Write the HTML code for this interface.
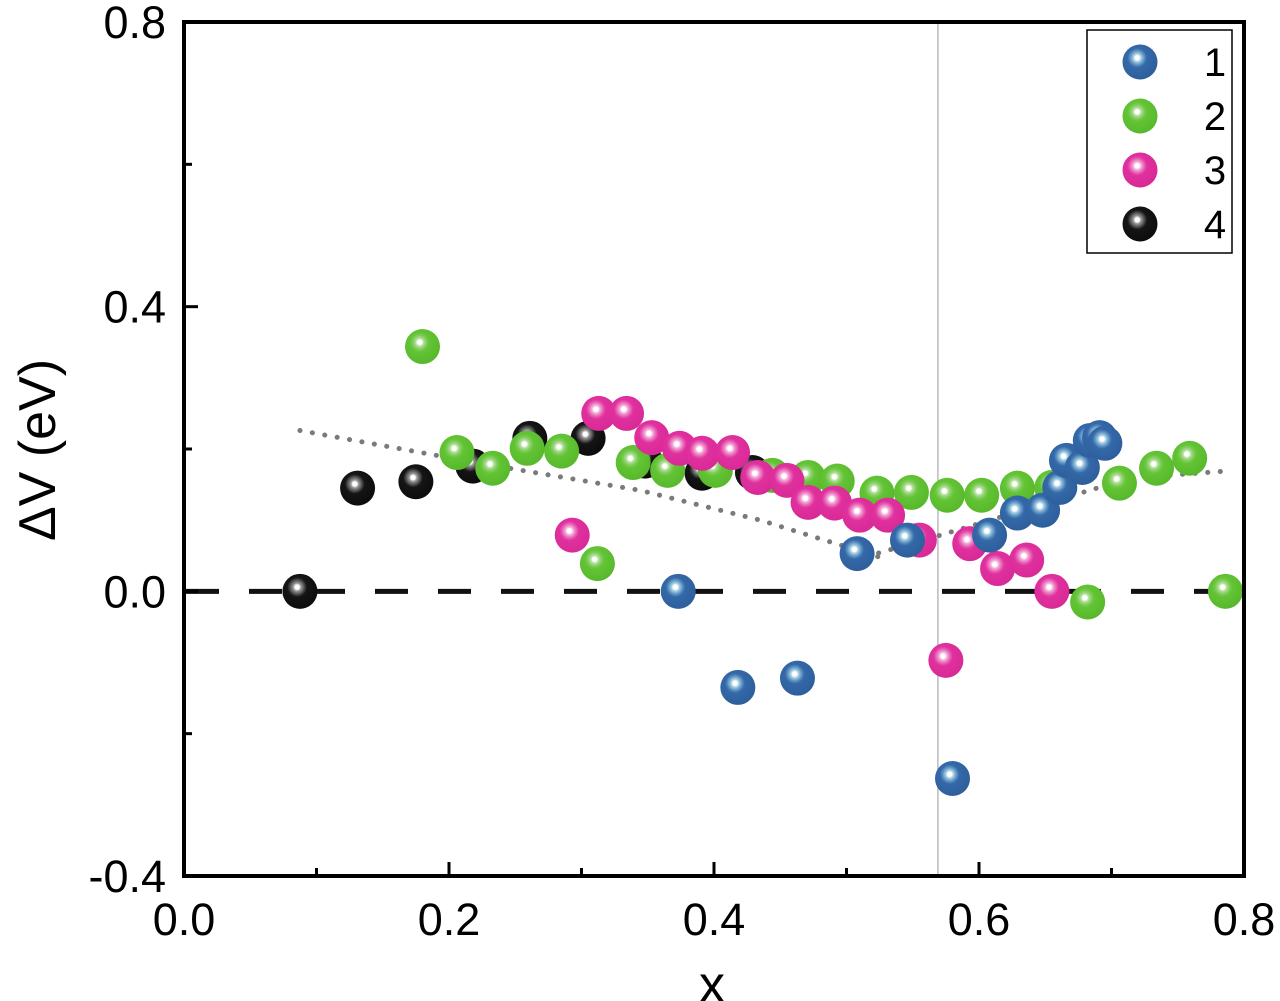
<!DOCTYPE html>
<html><head><meta charset="utf-8"><style>
html,body{margin:0;padding:0;background:#fff;}
svg{display:block;font-family:"Liberation Sans",Arial,sans-serif;}
</style></head><body>
<svg id="chart" width="1280" height="1001" viewBox="0 0 1280 1001" xmlns="http://www.w3.org/2000/svg">
<defs>
<radialGradient id="g1" cx="0.42" cy="0.38" r="0.62"><stop offset="0" stop-color="#fff"/><stop offset="0.1" stop-color="#fff"/><stop offset="0.18" stop-color="#a8d0e4"/><stop offset="0.32" stop-color="#5f96c4"/><stop offset="0.45" stop-color="#3468a8"/><stop offset="1" stop-color="#2e5f9c"/></radialGradient>
<radialGradient id="g2" cx="0.42" cy="0.38" r="0.62"><stop offset="0" stop-color="#fff"/><stop offset="0.1" stop-color="#fff"/><stop offset="0.18" stop-color="#b4e09c"/><stop offset="0.32" stop-color="#80cc5c"/><stop offset="0.45" stop-color="#62c434"/><stop offset="1" stop-color="#58b82c"/></radialGradient>
<radialGradient id="g3" cx="0.42" cy="0.38" r="0.62"><stop offset="0" stop-color="#fff"/><stop offset="0.1" stop-color="#fff"/><stop offset="0.18" stop-color="#f4b0dc"/><stop offset="0.32" stop-color="#e866b6"/><stop offset="0.45" stop-color="#e0309e"/><stop offset="1" stop-color="#d82a96"/></radialGradient>
<radialGradient id="g4" cx="0.42" cy="0.38" r="0.62"><stop offset="0" stop-color="#fff"/><stop offset="0.1" stop-color="#fff"/><stop offset="0.18" stop-color="#999"/><stop offset="0.32" stop-color="#555"/><stop offset="0.45" stop-color="#151515"/><stop offset="1" stop-color="#0c0c0c"/></radialGradient>
</defs>
<g id="plot"></g>
</svg>
<script>
const xTicks=[0.0,0.2,0.4,0.6,0.8];
const yTicks=[-0.4,0.0,0.4,0.8];
const xTickLabels=["0.0","0.2","0.4","0.6","0.8"];
const yTickLabels=["-0.4","0.0","0.4","0.8"];
const s1x=[0.373,0.418,0.463,0.508,0.546,0.580,0.608,0.629,0.648,0.661,0.666,0.678,0.684,0.691,0.695];
const s1y=[0,-0.135,-0.122,0.053,0.072,-0.263,0.079,0.110,0.114,0.146,0.184,0.174,0.212,0.216,0.208];
const s2x=[0.180,0.206,0.233,0.259,0.285,0.312,0.339,0.365,0.401,0.444,0.471,0.493,0.523,0.549,0.576,0.602,0.629,0.655,0.682,0.706,0.734,0.759,0.786];
const s2y=[0.344,0.195,0.173,0.201,0.197,0.039,0.181,0.170,0.170,0.163,0.160,0.155,0.138,0.139,0.135,0.135,0.145,0.146,-0.015,0.152,0.173,0.187,0];
const s3x=[0.313,0.334,0.293,0.353,0.374,0.391,0.414,0.433,0.455,0.471,0.491,0.510,0.531,0.555,0.575,0.593,0.614,0.636,0.655];
const s3y=[0.250,0.250,0.079,0.216,0.201,0.194,0.195,0.160,0.156,0.125,0.124,0.107,0.107,0.072,-0.097,0.067,0.032,0.044,0];
const s4x=[0.0875,0.131,0.175,0.218,0.261,0.305,0.348,0.391,0.429];
const s4y=[0,0.145,0.154,0.176,0.215,0.215,0.183,0.166,0.167];
const fitAx=[0.0875,0.223,0.344,0.435,0.525];
const fitAy=[0.226,0.180,0.142,0.100,0.048];
const fitBx=[0.506,0.571,0.646,0.714,0.786];
const fitBy=[0.044,0.079,0.121,0.159,0.169];
const vlineX=0.569;

const L=184,R=1244,T=22,B=876;
const X=v=>L+(v-0)/0.8*(R-L);
const Y=v=>B-(v+0.4)/1.2*(B-T);
const NS="http://www.w3.org/2000/svg";
const g=document.getElementById('plot');
function mk(t,a,p){const e=document.createElementNS(NS,t);for(const k in a)e.setAttribute(k,a[k]);(p||g).appendChild(e);return e;}

let e=mk('line',{x1:X(vlineX),x2:X(vlineX),y1:T,y2:B,stroke:'#bbb','stroke-width':1.5});


e=mk('line',{x1:L,x2:R,y1:Y(0),y2:Y(0),stroke:'#111','stroke-width':5,'stroke-dasharray':'33 30','stroke-dashoffset':'-2'});



function fit(xs,ys,name){
  const d=xs.map((v,i)=>(i?'L':'M')+X(v).toFixed(1)+' '+Y(ys[i]).toFixed(1)).join(' ');
  const p=mk('path',{d:d,fill:'none',stroke:'#7a7a7a','stroke-width':5,'stroke-linecap':'round','stroke-dasharray':'0.1 12.5'});
  
  
}
fit(fitAx,fitAy,'trend-line-left');
fit(fitBx,fitBy,'trend-line-right');

function series(xs,ys,grad,name){
  const sg=mk('g',{});
  
  
  xs.forEach((v,i)=>{
    const c=mk('circle',{cx:X(v),cy:Y(ys[i]),r:17.5,fill:'url(#'+grad+')'},sg);
    
    
  });
}
series(s4x,s4y,'g4','series-4');
series(s2x,s2y,'g2','series-2');
series(s3x,s3y,'g3','series-3');
series(s1x,s1y,'g1','series-1');

e=mk('rect',{x:L,y:T,width:R-L,height:B-T,fill:'none',stroke:'#000','stroke-width':4});



xTicks.forEach((v,i)=>{
  mk('line',{x1:X(v),x2:X(v),y1:B,y2:B-14,stroke:'#000','stroke-width':3});
  const t=mk('text',{x:X(v),y:935,'text-anchor':'middle','font-size':45});
  t.textContent=xTickLabels[i];
  
  
  if(i<xTicks.length-1){mk('line',{x1:X(v+0.1),x2:X(v+0.1),y1:B,y2:B-8,stroke:'#000','stroke-width':3});}
});
yTicks.forEach((v,i)=>{
  mk('line',{x1:L,x2:L+14,y1:Y(v),y2:Y(v),stroke:'#000','stroke-width':3});
  const t=mk('text',{x:166,y:Y(v)+16,'text-anchor':'end','font-size':45});
  t.textContent=yTickLabels[i];
  
  
  if(i<yTicks.length-1){mk('line',{x1:L,x2:L+8,y1:Y(v+0.2),y2:Y(v+0.2),stroke:'#000','stroke-width':3});}
});

e=mk('text',{x:712,y:1002,'text-anchor':'middle','font-size':52});
e.textContent='x';


e=mk('text',{x:0,y:0,'text-anchor':'middle','font-size':52,transform:'translate(55,450) rotate(-90)'});
e.textContent='ΔV (eV)';



const lg=mk('g',{});


mk('rect',{x:1087,y:30,width:145,height:223,fill:'#fff',stroke:'#000','stroke-width':1.5},lg);
const legendLabels=['1','2','3','4'];
const legendGrads=['g1','g2','g3','g4'];
legendLabels.forEach((lab,i)=>{
  const eg=mk('g',{},lg);
  
  
  const cy=62+i*54;
  mk('circle',{cx:1140,cy:cy,r:17.5,fill:'url(#'+legendGrads[i]+')'},eg);
  const t=mk('text',{x:1215,y:cy+14,'text-anchor':'middle','font-size':40},eg);
  t.textContent=lab;
});
</script>
</body></html>
